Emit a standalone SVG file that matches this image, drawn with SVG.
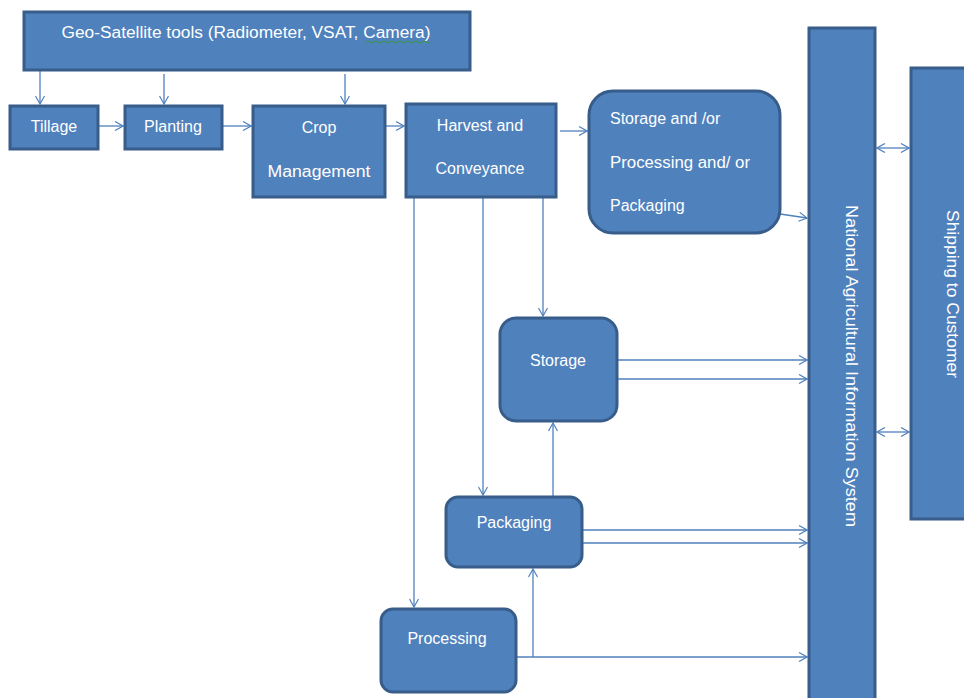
<svg xmlns="http://www.w3.org/2000/svg" width="964" height="698" viewBox="0 0 964 698">
<defs>
<marker id="arr" markerWidth="10" markerHeight="10" refX="9" refY="5" orient="auto" markerUnits="userSpaceOnUse">
<path d="M1,0.5 L9,5 L1,9.5" fill="none" stroke="#4F81BD" stroke-width="1.2"/>
</marker>
<marker id="arrs" markerWidth="10" markerHeight="10" refX="1" refY="5" orient="auto" markerUnits="userSpaceOnUse">
<path d="M9,0.5 L1,5 L9,9.5" fill="none" stroke="#4F81BD" stroke-width="1.2"/>
</marker>
</defs>
<style>
.n{fill:#4F81BD;stroke:#385D8A;stroke-width:3}
.t{fill:#fff;font-family:"Liberation Sans","Open Sans",sans-serif;font-size:16px}
.c{fill:none;stroke:#4F81BD;stroke-width:1.3}
</style>
<rect width="964" height="698" fill="#fff"/>
<g id="connectors">
<line class="c" x1="40" y1="70" x2="40" y2="104" marker-end="url(#arr)"/>
<line class="c" x1="164" y1="74" x2="164" y2="104" marker-end="url(#arr)"/>
<line class="c" x1="345" y1="74" x2="345" y2="104" marker-end="url(#arr)"/>
<line class="c" x1="98" y1="126" x2="123" y2="126" marker-end="url(#arr)"/>
<line class="c" x1="222" y1="126" x2="251" y2="126" marker-end="url(#arr)"/>
<line class="c" x1="385" y1="126" x2="404" y2="126" marker-end="url(#arr)"/>
<line class="c" x1="560" y1="131" x2="587" y2="131" marker-end="url(#arr)"/>
<line class="c" x1="780" y1="214" x2="807" y2="218" marker-end="url(#arr)"/>
<line class="c" x1="543" y1="197" x2="543" y2="316" marker-end="url(#arr)"/>
<line class="c" x1="483" y1="197" x2="483" y2="495" marker-end="url(#arr)"/>
<line class="c" x1="414" y1="197" x2="414" y2="607" marker-end="url(#arr)"/>
<line class="c" x1="617" y1="360" x2="807" y2="360" marker-end="url(#arr)"/>
<line class="c" x1="617" y1="379" x2="807" y2="379" marker-end="url(#arr)"/>
<line class="c" x1="553" y1="497" x2="553" y2="423" marker-end="url(#arr)"/>
<line class="c" x1="582" y1="530" x2="807" y2="530" marker-end="url(#arr)"/>
<line class="c" x1="582" y1="543" x2="807" y2="543" marker-end="url(#arr)"/>
<line class="c" x1="516" y1="657" x2="807" y2="657" marker-end="url(#arr)"/>
<line class="c" x1="533" y1="657" x2="533" y2="569" marker-end="url(#arr)"/>
<line class="c" x1="877" y1="148" x2="909" y2="148" marker-start="url(#arrs)" marker-end="url(#arr)"/>
<line class="c" x1="877" y1="432" x2="909" y2="432" marker-start="url(#arrs)" marker-end="url(#arr)"/>
</g>
<g id="geo">
<rect class="n" x="24" y="12" width="446" height="58"/>
<text class="t" x="246" y="38" text-anchor="middle" textLength="369" lengthAdjust="spacingAndGlyphs">Geo-Satellite tools (Radiometer, VSAT, Camera)</text>
<path d="M366,42 q2,-2 4,0 t4,0 t4,0 t4,0 t4,0 t4,0 t4,0 t4,0 t4,0 t4,0 t4,0 t4,0 t4,0 t4,0 t4,0 t4,0" fill="none" stroke="#3a9a3a" stroke-width="1"/>
</g>
<g id="tillage">
<rect class="n" x="10" y="106" width="88" height="43"/>
<text class="t" x="54" y="132" text-anchor="middle">Tillage</text>
</g>
<g id="planting">
<rect class="n" x="125" y="106" width="97" height="43"/>
<text class="t" x="173" y="132" text-anchor="middle">Planting</text>
</g>
<g id="crop">
<rect class="n" x="253" y="106" width="132" height="91"/>
<text class="t" x="319" y="133" text-anchor="middle">Crop</text>
<text class="t" x="319" y="177" text-anchor="middle" textLength="103" lengthAdjust="spacingAndGlyphs">Management</text>
</g>
<g id="harvest">
<rect class="n" x="406" y="104" width="150" height="93"/>
<text class="t" x="480" y="131" text-anchor="middle">Harvest and</text>
<text class="t" x="480" y="174" text-anchor="middle">Conveyance</text>
</g>
<g id="storage-or">
<rect class="n" x="589" y="91" width="191" height="142" rx="24"/>
<text class="t" x="610" y="124">Storage and /or</text>
<text class="t" x="610" y="168" textLength="140" lengthAdjust="spacingAndGlyphs">Processing and/ or</text>
<text class="t" x="610" y="211">Packaging</text>
</g>
<g id="storage">
<rect class="n" x="500" y="318" width="117" height="103" rx="16"/>
<text class="t" x="558" y="366" text-anchor="middle">Storage</text>
</g>
<g id="packaging">
<rect class="n" x="446" y="497" width="136" height="70" rx="12"/>
<text class="t" x="514" y="528" text-anchor="middle">Packaging</text>
</g>
<g id="processing">
<rect class="n" x="381" y="609" width="135" height="83" rx="12"/>
<text class="t" x="447" y="644" text-anchor="middle">Processing</text>
</g>
<g id="nais">
<rect class="n" x="809" y="28" width="66" height="680"/>
<text class="t" transform="rotate(90 851 366)" x="851" y="366" text-anchor="middle" dominant-baseline="central" textLength="322" lengthAdjust="spacingAndGlyphs">National Agricultural Information System</text>
</g>
<g id="shipping">
<rect class="n" x="911" y="68" width="60" height="451"/>
<text class="t" transform="rotate(90 952 294)" x="952" y="294" text-anchor="middle" dominant-baseline="central" textLength="168" lengthAdjust="spacingAndGlyphs">Shipping to Customer</text>
</g>
</svg>
